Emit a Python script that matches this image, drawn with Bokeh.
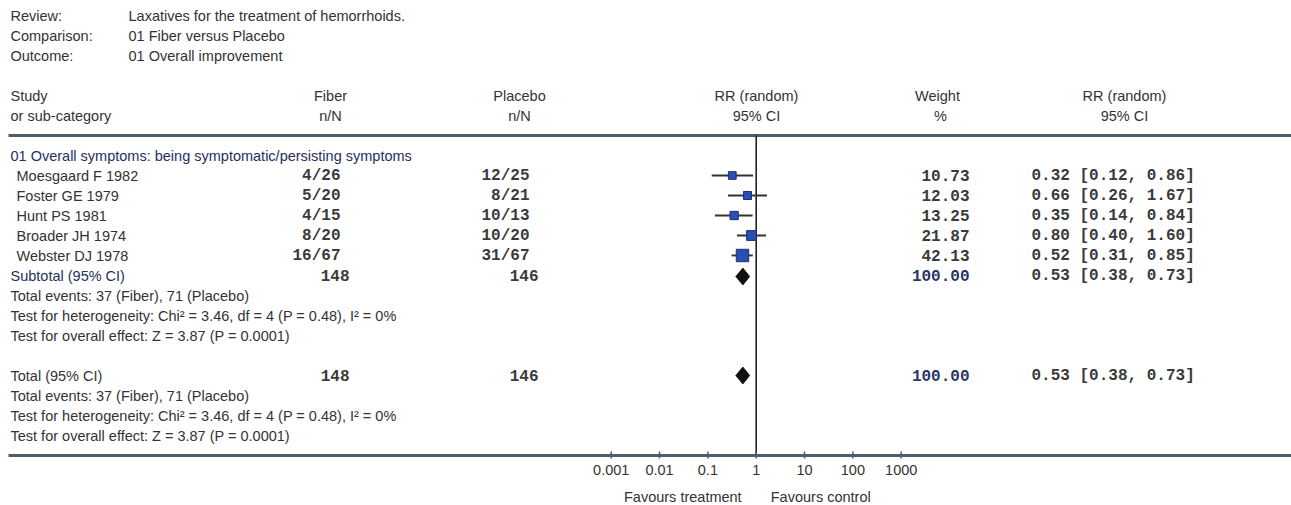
import math
from bokeh.plotting import figure
from bokeh.models import Range1d, LogScale
from bokeh.core.properties import value
from bokeh.embed import file_html
from bokeh.resources import INLINE

# ---------------- data ----------------
review_text = "Laxatives for the treatment of hemorrhoids."
comparison_text = "01 Fiber versus Placebo"
outcome_text = "01 Overall improvement"
group_label = "01 Overall symptoms: being symptomatic/persisting symptoms"

studies = ["Moesgaard F 1982", "Foster GE 1979", "Hunt PS 1981", "Broader JH 1974", "Webster DJ 1978"]
fiber_nN = ["4/26", "5/20", "4/15", "8/20", "16/67"]
placebo_nN = ["12/25", "8/21", "10/13", "10/20", "31/67"]
weights = [10.73, 12.03, 13.25, 21.87, 42.13]
rr = [0.32, 0.66, 0.35, 0.80, 0.52]
rr_lo = [0.12, 0.26, 0.14, 0.40, 0.31]
rr_hi = [0.86, 1.67, 0.84, 1.60, 0.85]

total_fiber = 148
total_placebo = 146
total_weight = 100.00
pooled_rr = 0.53
pooled_lo = 0.38
pooled_hi = 0.73

events_text = "Total events: 37 (Fiber), 71 (Placebo)"
het_text = "Test for heterogeneity: Chi\u00b2 = 3.46, df = 4 (P = 0.48), I\u00b2 = 0%"
effect_text = "Test for overall effect: Z = 3.87 (P = 0.0001)"

ticks = [0.001, 0.01, 0.1, 1, 10, 100, 1000]
tick_labels = ["0.001", "0.01", "0.1", "1", "10", "100", "1000"]

# ---------------- layout ----------------
W, H = 1291, 505
X0, X1 = 0, W
Y0, Y1 = 0, H
ROW0, ROWH = 15.0, 20.0           # page y of row 0, row height
ONE_X, DECADE = 755.7, 48.33      # page x of RR = 1, px per decade

def row(py):
    return (py - ROW0) / ROWH

lo_exp = (X0 - ONE_X) / DECADE
hi_exp = (X1 - ONE_X) / DECADE

p = figure(width=W, height=H, output_backend="svg", toolbar_location=None,
           x_range=Range1d(X0, X1), y_range=Range1d(row(Y1), row(Y0)),
           min_border=0, outline_line_color=None)
p.extra_x_ranges = {"rr": Range1d(10 ** lo_exp, 10 ** hi_exp)}
p.extra_x_scales = {"rr": LogScale()}
p.xaxis.visible = False
p.yaxis.visible = False
p.grid.visible = False
p.background_fill_color = "white"
p.border_fill_color = "white"

SANS = value("Liberation Sans")
MONO = value("Liberation Mono")
SFS = "14.5px"
MFS = "16px"
TXT = "#333333"
NAVY = "#26305e"
MTXT = "#3a3a3a"

def txt(xs, ys, texts, align="left", font=SANS, size=SFS, color=TXT, style="normal", rng="default"):
    kw = {}
    if rng != "default":
        kw["x_range_name"] = rng
    p.text(x=xs, y=ys, text=texts, text_font=font, text_font_size=size,
           text_align=align, text_baseline="middle", text_color=color,
           text_font_style=style, **kw)

# header block
txt([10, 10, 10], [0, 1, 2], ["Review:", "Comparison:", "Outcome:"])
txt([128, 128, 128], [0, 1, 2], [review_text, comparison_text, outcome_text])

txt([10, 10], [4, 5], ["Study", "or sub-category"])
txt([330, 330], [4, 5], ["Fiber", "n/N"], align="center")
txt([519, 519], [4, 5], ["Placebo", "n/N"], align="center")
txt([756, 756], [4, 5], ["RR (random)", "95% CI"], align="center")
txt([937, 940], [4, 5], ["Weight", "%"], align="center")
txt([1124, 1124], [4, 5], ["RR (random)", "95% CI"], align="center")

# separator lines
p.segment(x0=[8, 8], x1=[X1, X1], y0=[6, 22], y1=[6, 22], line_color="#505e6a", line_width=3)

# group
txt([10], [7], [group_label], color=NAVY)
study_rows = [8 + i for i in range(len(studies))]
txt([16] * len(studies), study_rows, studies)
txt([340] * len(studies), study_rows, fiber_nN, align="right", font=MONO, size=MFS, color=MTXT, style="bold")
txt([529] * len(studies), study_rows, placebo_nN, align="right", font=MONO, size=MFS, color=MTXT, style="bold")
txt([969] * len(studies), study_rows, ["%.2f" % w for w in weights], align="right", font=MONO, size=MFS, color=MTXT, style="bold")
txt([1031] * len(studies), study_rows,
    ["%.2f [%.2f, %.2f]" % (a, b, c) for a, b, c in zip(rr, rr_lo, rr_hi)],
    font=MONO, size=MFS, color=MTXT, style="bold")

# subtotal and total rows
for r_lab, label in [(13, "Subtotal (95% CI)"), (18, "Total (95% CI)")]:
    txt([10], [r_lab], [label], color=NAVY if r_lab == 13 else TXT)
    txt([349], [r_lab], [str(total_fiber)], align="right", font=MONO, size=MFS, color=MTXT, style="bold")
    txt([538], [r_lab], [str(total_placebo)], align="right", font=MONO, size=MFS, color=MTXT, style="bold")
    txt([969], [r_lab], ["%.2f" % total_weight], align="right", font=MONO, size=MFS, color="#2a3566", style="bold")
    txt([1031], [r_lab], ["%.2f [%.2f, %.2f]" % (pooled_rr, pooled_lo, pooled_hi)],
        font=MONO, size=MFS, color=MTXT, style="bold")

txt([10, 10, 10], [14, 15, 16], [events_text, het_text, effect_text])
txt([10, 10, 10], [19, 20, 21], [events_text, het_text, effect_text])

# forest: line of no effect
p.segment(x0=[1], x1=[1], y0=[6], y1=[22], x_range_name="rr", line_color="#222222", line_width=1.6)

# CIs and squares
p.segment(x0=rr_lo, x1=rr_hi, y0=study_rows, y1=study_rows, x_range_name="rr",
          line_color="#333333", line_width=1.8)
sizes = [3.0 + 1.45 * math.sqrt(w) for w in weights]
p.scatter(x=rr, y=study_rows, size=sizes, marker="square", x_range_name="rr",
          fill_color="#2a4fb2", line_color="#1b2f78", line_width=1)

# diamonds
for r_d in [13.05, 18.0]:
    p.patch(x=[pooled_lo, pooled_rr, pooled_hi, pooled_rr], y=[r_d, r_d - 0.42, r_d, r_d + 0.42],
            x_range_name="rr", fill_color="#111111", line_color="#111111", line_width=1)

# axis ticks and labels
p.segment(x0=ticks, x1=ticks, y0=[row(451)] * len(ticks), y1=[row(458)] * len(ticks),
          x_range_name="rr", line_color="#505e6a", line_width=1.5)
txt(ticks, [row(469)] * len(ticks), tick_labels, align="center", size="14.5px", color=TXT, rng="rr")
txt([0.5], [row(496)], ["Favours treatment"], align="right", size="14.5px", color=TXT, rng="rr")
txt([2.0], [row(496)], ["Favours control"], align="left", size="14.5px", color=TXT, rng="rr")

open("out.html", "w").write(file_html(p, INLINE))
